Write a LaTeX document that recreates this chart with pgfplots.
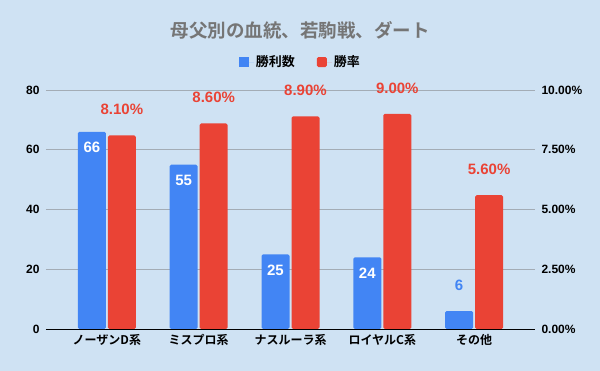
\documentclass[border=0pt]{standalone}
\usepackage{pgfplots}
\pgfplotsset{compat=1.18}
\usepackage{fontspec}
\setmainfont{Noto Sans CJK JP}[BoldFont={Noto Sans CJK JP Bold}]
\newfontfamily\arialf{Liberation Sans}
\definecolor{bg}{HTML}{CFE2F3}
\definecolor{blueC}{HTML}{4285F4}
\definecolor{redC}{HTML}{EA4335}
\definecolor{gridC}{HTML}{A3ACB5}
\definecolor{titleC}{HTML}{757575}
\pgfplotsset{sqlegend/.style={legend image code/.code={\path (0pt,0pt) -- (15pt,0pt); \fill[##1] (0pt,-5pt) rectangle (10pt,5pt);}}}
\begin{document}
\begin{tikzpicture}
\fill[bg] (-46pt,-42pt) rectangle (554pt,329pt);
\node[font=\bfseries\fontsize{18.5}{20}\selectfont, text=titleC] at (254pt,299pt) {母父別の血統、若駒戦、ダート};
\begin{axis}[
  scale only axis, width=489pt, height=239pt,
  xmin=-0.663, xmax=4.663, ymin=0, ymax=80,
  xtick={0,1,2,3,4},
  xticklabels={ノーザンD系,ミスプロ系,ナスルーラ系,ロイヤルC系,その他},
  ytick={0,20,40,60,80},
  ymajorgrids, grid style={draw=gridC, line width=0.7pt},
  major tick length=0pt, tick style={draw=none},
  axis line style={draw=none},
  /pgf/number format/assume math mode=true,
  yticklabel style={font=\arialf\bfseries\fontsize{12}{14}\selectfont, xshift=-3pt},
  xticklabel style={font=\bfseries\fontsize{12}{14}\selectfont, yshift=-2pt},
]
\addplot[ybar, bar width=28pt, bar shift=-15pt, fill=blueC, draw=none, rounded corners=1.5pt,
  nodes near coords,
  every node near coord/.append style={anchor=center, xshift=-15pt, yshift=-16pt, text=white, font=\arialf\bfseries\fontsize{15}{17}\selectfont}]
  coordinates {(0,66) (1,55) (2,25) (3,24)};
\addplot[ybar, bar width=28pt, bar shift=-15pt, fill=blueC, draw=none, rounded corners=1.5pt,
  nodes near coords,
  every node near coord/.append style={anchor=center, xshift=-15pt, yshift=26pt, text=blueC, font=\arialf\bfseries\fontsize{15}{17}\selectfont}]
  coordinates {(4,6)};
\end{axis}
\begin{axis}[
  scale only axis, width=489pt, height=239pt,
  xmin=-0.663, xmax=4.663, ymin=0, ymax=0.1,
  xtick=\empty,
  ytick={0,0.025,0.05,0.075,0.1},
  yticklabels={0.00\%,2.50\%,5.00\%,7.50\%,10.00\%},
  axis x line*=bottom, axis y line*=right,
  x axis line style={draw=black, line width=0.8pt, -},
  y axis line style={draw=none},
  major tick length=0pt, tick style={draw=none},
  yticklabel style={font=\arialf\bfseries\fontsize{12}{14}\selectfont, xshift=3pt},
  legend style={at={(0.52,1.117)}, anchor=center, draw=none, fill=none,
    font=\bfseries\fontsize{13}{15}\selectfont, legend columns=2,
    /tikz/every even column/.append style={column sep=20pt}},
]
\addlegendimage{sqlegend, fill=blueC, draw=none}
\addlegendentry{勝利数}
\addplot[ybar, bar width=28pt, bar shift=15pt, fill=redC, draw=none, rounded corners=1.5pt, sqlegend,
  point meta=explicit symbolic, nodes near coords,
  every node near coord/.append style={anchor=center, xshift=15pt, yshift=26pt, text=redC, font=\arialf\bfseries\fontsize{15}{17}\selectfont}]
  coordinates {(0,0.081) [8.10\%] (1,0.086) [8.60\%] (2,0.089) [8.90\%] (3,0.090) [9.00\%] (4,0.056) [5.60\%]};
\addlegendentry{勝率}
\end{axis}
\end{tikzpicture}
\end{document}
